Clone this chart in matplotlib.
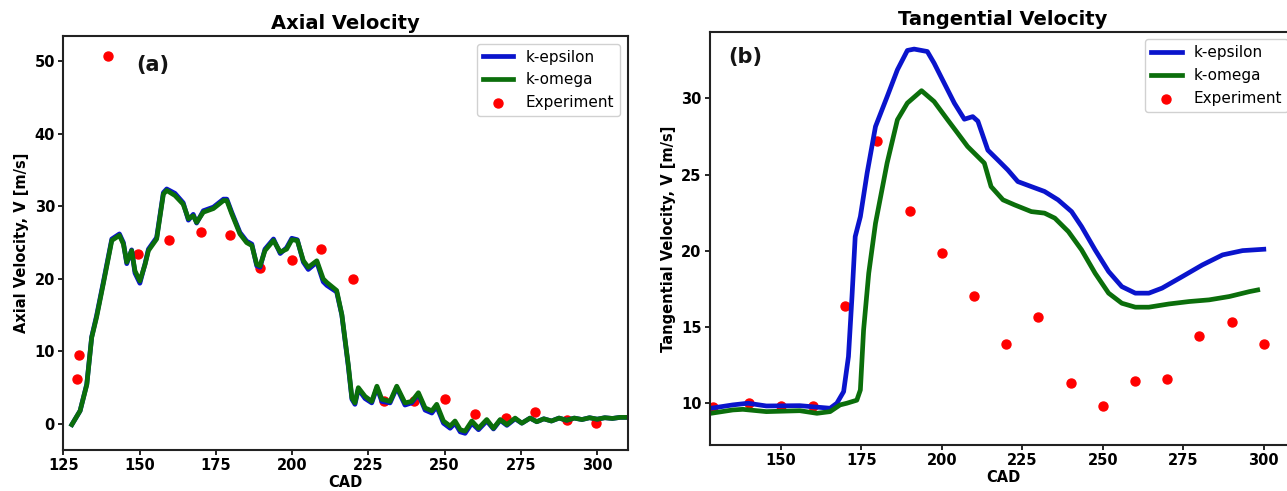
import matplotlib.pyplot as plt
import numpy as np

plt.rcParams['font.family'] = ['DejaVu Sans']

# ---- (a) axial velocity ----
cad_a = [127.8, 130.5, 132.7, 134.3, 135.9, 138.1, 140.9, 143.4, 144.7, 145.8,
         147.4, 148.5, 150.1, 151.8, 152.9, 155.6, 157.8, 158.9, 161.6, 164.3,
         166.0, 167.6, 168.7, 170.9, 174.2, 177.5, 178.6, 180.2, 182.9, 185.1,
         186.8, 188.4, 189.5, 191.1, 193.9, 196.1, 198.2, 199.9, 201.7, 203.7,
         205.3, 208.1, 210.2, 211.4, 214.6, 216.3, 218.4, 219.6, 220.6, 221.7,
         223.9, 226.1, 227.8, 229.4, 232.1, 234.3, 237.0, 239.2, 241.4, 243.6,
         245.8, 247.4, 249.6, 251.8, 253.4, 255.1, 256.7, 258.9, 261.1, 263.8,
         266.0, 268.2, 270.4, 273.1, 275.3, 278.0, 280.2, 282.5, 285.0, 287.5,
         290.0, 292.5, 295.0, 297.5, 300.0, 302.5, 305.0, 307.5, 310.0]
axial_komega = [-0.1, 1.8, 5.4, 11.9, 14.7, 19.3, 25.3, 26.0, 24.8, 22.3,
                23.9, 21.1, 19.7, 22.0, 23.9, 25.5, 31.7, 32.2, 31.5, 30.3,
                28.3, 28.7, 27.8, 29.2, 29.7, 30.8, 30.8, 29.0, 26.2, 25.0,
                24.6, 22.0, 21.8, 23.9, 25.3, 23.7, 24.1, 25.4, 25.3, 22.5,
                21.6, 22.5, 20.0, 19.5, 18.4, 15.1, 8.2, 3.6, 2.9, 5.0,
                3.8, 3.1, 5.2, 3.4, 3.1, 5.2, 2.9, 3.1, 4.3, 2.2,
                1.8, 2.7, 0.4, -0.3, 0.4, -0.8, -1.0, 0.4, -0.6, 0.6,
                -0.6, 0.6, -0.1, 0.8, 0.1, 0.8, 0.3, 0.7, 0.4, 0.8,
                0.5, 0.8, 0.6, 0.85, 0.65, 0.85, 0.75, 0.9, 0.9]
axial_keps = [-0.1, 1.8, 5.5, 12.0, 14.9, 19.5, 25.5, 26.2, 25.0, 22.1,
              24.0, 20.8, 19.4, 22.1, 24.1, 25.7, 31.9, 32.4, 31.8, 30.5,
              28.1, 28.9, 27.7, 29.4, 29.9, 31.0, 31.0, 29.2, 26.4, 25.2,
              24.8, 21.8, 21.6, 24.1, 25.5, 23.5, 24.3, 25.6, 25.4, 22.3,
              21.3, 22.3, 19.6, 19.1, 18.2, 15.0, 8.0, 3.4, 2.7, 4.8,
              3.5, 2.9, 5.0, 3.1, 2.9, 5.0, 2.6, 2.9, 4.1, 1.9,
              1.5, 2.4, 0.1, -0.6, 0.1, -1.1, -1.3, 0.1, -0.8, 0.4,
              -0.7, 0.5, -0.2, 0.7, 0.1, 0.8, 0.3, 0.7, 0.4, 0.8,
              0.5, 0.8, 0.6, 0.85, 0.65, 0.85, 0.75, 0.9, 0.9]
exp_cad_a = [129.4, 130.2, 139.8, 149.6, 159.8, 170.0, 179.7, 189.5, 199.9, 209.5,
             219.9, 230.0, 240.0, 250.1, 259.9, 270.0, 279.7, 290.0, 299.6]
exp_axial = [6.2, 9.5, 50.8, 23.4, 25.3, 26.5, 26.1, 21.5, 22.6, 24.1,
             20.0, 3.2, 3.1, 3.4, 1.3, 0.8, 1.6, 0.6, 0.1]

# ---- (b) tangential velocity ----
cad_b_eps = [128.3, 135.1, 139.8, 145.5, 155.9, 165.3, 167.4, 169.5, 171.0, 172.1,
             173.1, 174.7, 176.8, 179.4, 183.0, 186.2, 189.3, 191.4, 195.5, 197.6,
             199.7, 203.9, 207.0, 209.6, 211.2, 214.3, 217.9, 220.5, 223.6, 227.8,
             231.9, 236.1, 240.3, 243.4, 247.6, 251.8, 255.9, 260.1, 264.3, 268.4,
             274.7, 280.9, 287.2, 293.4, 300.0]
tang_keps = [9.67, 9.89, 10.0, 9.82, 9.84, 9.67, 10.0, 10.76, 13.06, 17.0,
             20.93, 22.24, 25.1, 28.15, 30.1, 31.87, 33.14, 33.23, 33.07, 32.31,
             31.43, 29.68, 28.63, 28.8, 28.5, 26.6, 25.85, 25.3, 24.54, 24.21,
             23.89, 23.34, 22.57, 21.59, 20.06, 18.64, 17.65, 17.22, 17.22, 17.55,
             18.31, 19.07, 19.73, 20.01, 20.1]
cad_b_om = [128.3, 135.1, 138.2, 145.5, 155.9, 161.2, 165.3, 168.4, 170.5, 173.6,
            174.7, 175.7, 177.3, 179.4, 183.0, 186.2, 189.3, 193.7, 197.6, 201.8,
            204.9, 208.0, 213.2, 215.3, 219.0, 222.6, 227.8, 231.9, 235.1, 239.3,
            243.4, 247.6, 251.8, 255.9, 260.1, 264.3, 270.5, 276.8, 283.0, 289.3,
            295.5, 298.1]
tang_komega = [9.34, 9.56, 9.6, 9.45, 9.51, 9.34, 9.45, 9.89, 10.0, 10.2,
               10.87, 14.8, 18.53, 21.8, 25.75, 28.59, 29.69, 30.5, 29.79, 28.59,
               27.72, 26.84, 25.75, 24.21, 23.34, 23.01, 22.57, 22.47, 22.14, 21.26,
               20.06, 18.53, 17.22, 16.56, 16.3, 16.3, 16.51, 16.67, 16.78, 17.0,
               17.32, 17.43]
exp_cad_b = [129, 140, 150, 160, 170, 180, 190, 200, 210, 220,
             230, 240, 250, 260, 270, 280, 290, 300]
exp_tang = [9.78, 10.04, 9.82, 9.82, 16.38, 27.23, 22.62, 19.88, 17.04, 13.89,
            15.64, 11.31, 9.84, 11.48, 11.59, 14.44, 15.31, 13.87]

blue = '#0a14cc'
green = '#0b6e0b'
W, H = 1287, 491

fig = plt.figure(figsize=(W / 100, H / 100), dpi=100)
ax1 = fig.add_axes([63.3 / W, 41 / H, 564.4 / W, 414 / H])
ax2 = fig.add_axes([710 / W, 46 / H, 586 / W, 413.3 / H])


def style(ax, title, ylabel):
    ax.set_title(title, fontsize=14, fontweight='bold', pad=5)
    ax.set_xlabel('CAD', fontsize=10.5, fontweight='bold', labelpad=1)
    ax.set_ylabel(ylabel, fontsize=10.5, fontweight='bold')
    for lab in ax.get_xticklabels() + ax.get_yticklabels():
        lab.set_fontweight('bold')
    ax.tick_params(labelsize=10.5, width=1.2, pad=2.5)
    for s in ax.spines.values():
        s.set_linewidth(1.5)
        s.set_color('#222222')
    ax.legend(loc='upper right', fontsize=11, framealpha=0.9)


ax1.plot(cad_a, axial_keps, color=blue, lw=3.4, label='k-epsilon')
ax1.plot(cad_a, axial_komega, color=green, lw=3.4, label='k-omega')
ax1.scatter(exp_cad_a, exp_axial, s=42, color='red', label='Experiment')
ax1.set_xlim(125, 310)
ax1.set_ylim(-3.6, 53.5)
ax1.set_xticks(np.arange(125, 301, 25))
ax1.set_yticks(np.arange(0, 51, 10))
style(ax1, 'Axial Velocity', 'Axial Velocity, V [m/s]')

ax2.plot(cad_b_eps, tang_keps, color=blue, lw=3.4, label='k-epsilon')
ax2.plot(cad_b_om, tang_komega, color=green, lw=3.4, label='k-omega')
ax2.scatter(exp_cad_b, exp_tang, s=42, color='red', label='Experiment')
ax2.set_xlim(128, 310)
ax2.set_ylim(7.26, 34.37)
ax2.set_xticks(np.arange(150, 301, 25))
ax2.set_yticks(np.arange(10, 31, 5))
style(ax2, 'Tangential Velocity', 'Tangential Velocity, V [m/s]')

# panel tags
fig.text(153 / W, 1 - 65 / H, '(a)', fontsize=15, fontweight='bold',
         color='#141414', ha='center', va='center')
fig.text(745 / W, 1 - 57 / H, '(b)', fontsize=15, fontweight='bold',
         color='#141414', ha='center', va='center')

fig.savefig('out.png', dpi=100)
